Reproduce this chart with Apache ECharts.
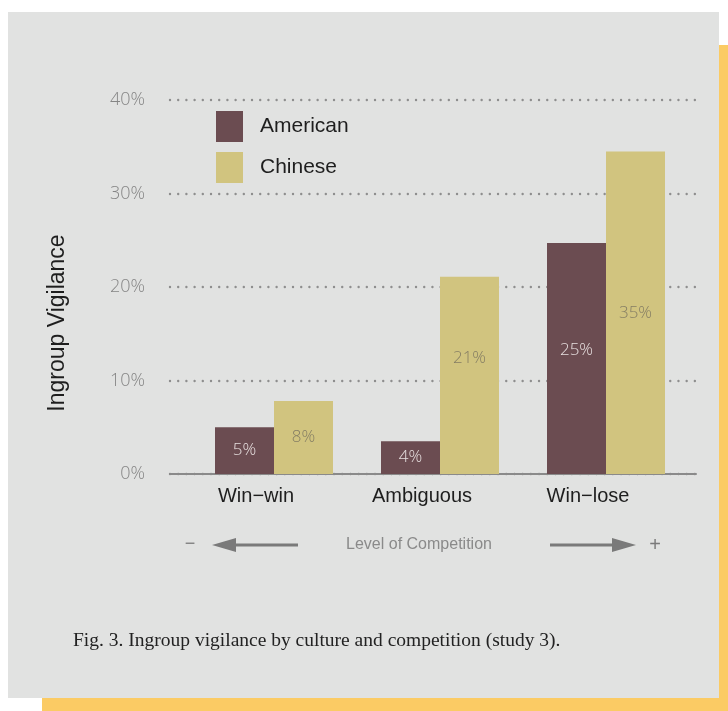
<!DOCTYPE html>
<html>
<head>
<meta charset="utf-8">
<script src="https://cdn.jsdelivr.net/npm/echarts@6/dist/echarts.min.js"></script>
<style>
  html, body { margin: 0; padding: 0; background: #ffffff; }
  #chart { width: 728px; height: 711px; }
</style>
</head>
<body>
<div id="chart"></div>
<script>
// Data
const categories = ['Win−win', 'Ambiguous', 'Win−lose'];
const seriesNames = ['American', 'Chinese'];
const americanValues = [5.0, 3.5, 24.7];
const chineseValues = [7.8, 21.1, 34.5];
const yTickLabels = ['0%', '10%', '20%', '30%', '40%'];
const axisTitle = 'Ingroup Vigilance';
const competitionLabel = 'Level of Competition';
const caption = 'Fig. 3. Ingroup vigilance by culture and competition (study 3).';

// Styling
const SANS = '"Liberation Sans", Arial, sans-serif';
const LIGHT = '"Open Sans", "Liberation Sans", sans-serif';
const SERIF = '"Liberation Serif", "Times New Roman", serif';
const MAROON = '#6b4c51';
const TAN = '#d1c47f';
const PANEL = '#e1e2e1';
const GOLD = '#fbcb64';
const GRID_TOP = 100, GRID_BOTTOM = 237;

// vertical nudges for a couple of value labels inside tall bars
const americanLabelLift = [0, 0, -8];
const chineseLabelLift = [0, -17, 0];

const chart = echarts.init(document.getElementById('chart'), null, { renderer: 'canvas' });

const pct = v => Math.round(v) + '%';

const option = {
  backgroundColor: 'transparent',
  animation: false,
  grid: [
    // frame grid: dotted guides, tick labels and baseline
    { left: 170, right: 32, top: GRID_TOP, bottom: GRID_BOTTOM },
    // bar grid
    { left: 191, right: 39, top: GRID_TOP, bottom: GRID_BOTTOM }
  ],
  legend: {
    data: seriesNames,
    orient: 'vertical',
    left: 216,
    top: 111,
    padding: 0,
    itemWidth: 27,
    itemHeight: 31,
    itemGap: 10,
    icon: 'rect',
    selectedMode: false,
    textStyle: { fontSize: 21, color: '#1e1e1e', fontFamily: SANS, padding: [0, 0, 0, 12] }
  },
  xAxis: [
    {
      gridIndex: 0, type: 'value', min: 0, max: 1,
      axisLine: { show: true, lineStyle: { color: '#8a8a8a', width: 2 } },
      axisTick: { show: false }, axisLabel: { show: false }, splitLine: { show: false }
    },
    {
      gridIndex: 1, type: 'category', data: categories,
      axisLine: { show: false }, axisTick: { show: false },
      axisLabel: {
        fontSize: 20, color: '#1e1e1e', fontFamily: SANS, margin: 12,
        padding: [0, 36, 0, 0]
      }
    }
  ],
  yAxis: [
    {
      gridIndex: 0, type: 'value', min: 0, max: 40, interval: 10,
      axisLine: { show: false }, axisTick: { show: false },
      axisLabel: {
        formatter: v => yTickLabels[Math.round(v / 10)],
        margin: 25, color: '#858585', fontSize: 18, fontFamily: LIGHT, fontWeight: 300
      },
      splitLine: {
        show: true,
        lineStyle: { type: [0.001, 8.2], cap: 'round', width: 2.4, color: '#8e8e8e' }
      }
    },
    { gridIndex: 1, type: 'value', min: 0, max: 40, show: false }
  ],
  series: [
    {
      name: seriesNames[0], type: 'bar', xAxisIndex: 1, yAxisIndex: 1,
      barWidth: 59, barGap: '0%',
      itemStyle: { color: MAROON },
      label: {
        show: true, position: 'inside', formatter: p => pct(p.value),
        color: '#e6dede', fontSize: 17, fontFamily: LIGHT, fontWeight: 300
      },
      data: americanValues.map((v, i) => ({ value: v, label: { offset: [0, americanLabelLift[i]] } }))
    },
    {
      name: seriesNames[1], type: 'bar', xAxisIndex: 1, yAxisIndex: 1,
      barWidth: 59, barGap: '0%',
      itemStyle: { color: TAN },
      label: {
        show: true, position: 'inside', formatter: p => pct(p.value),
        color: '#857e64', fontSize: 17, fontFamily: LIGHT, fontWeight: 300
      },
      data: chineseValues.map((v, i) => ({ value: v, label: { offset: [0, chineseLabelLift[i]] } }))
    }
  ],
  graphic: [
    // card and its offset gold edge
    { type: 'rect', z: -100, shape: { x: 719, y: 45, width: 9, height: 666 }, style: { fill: GOLD } },
    { type: 'rect', z: -100, shape: { x: 42, y: 698, width: 686, height: 13 }, style: { fill: GOLD } },
    { type: 'rect', z: -99, shape: { x: 8, y: 12, width: 711, height: 686 }, style: { fill: PANEL } },
    // y-axis title
    {
      type: 'text', x: 58, y: 323, rotation: Math.PI / 2,
      style: { text: axisTitle, fontSize: 23, fontFamily: SANS, fill: '#1e1e1e', align: 'center', verticalAlign: 'middle' }
    },
    // competition scale underneath the categories
    { type: 'text', x: 190, y: 544, style: { text: '−', fontSize: 18, fontFamily: SANS, fill: '#7a7a7a', align: 'center', verticalAlign: 'middle' } },
    { type: 'line', shape: { x1: 234, y1: 545, x2: 298, y2: 545 }, style: { stroke: '#7a7a7a', lineWidth: 3 } },
    { type: 'polygon', shape: { points: [[212, 545], [236, 538], [236, 552]] }, style: { fill: '#7a7a7a' } },
    { type: 'text', x: 419, y: 545, style: { text: competitionLabel, fontSize: 16, fontFamily: SANS, fill: '#8a8a8a', align: 'center', verticalAlign: 'middle' } },
    { type: 'line', shape: { x1: 550, y1: 545, x2: 614, y2: 545 }, style: { stroke: '#7a7a7a', lineWidth: 3 } },
    { type: 'polygon', shape: { points: [[636, 545], [612, 538], [612, 552]] }, style: { fill: '#7a7a7a' } },
    { type: 'text', x: 655, y: 545, style: { text: '+', fontSize: 20, fontFamily: SANS, fill: '#7a7a7a', align: 'center', verticalAlign: 'middle' } },
    // figure caption
    { type: 'text', x: 73, y: 641, style: { text: caption, fontSize: 19.5, fontFamily: SERIF, fill: '#222222', align: 'left', verticalAlign: 'middle' } }
  ]
};

chart.setOption(option);
</script>
</body>
</html>
